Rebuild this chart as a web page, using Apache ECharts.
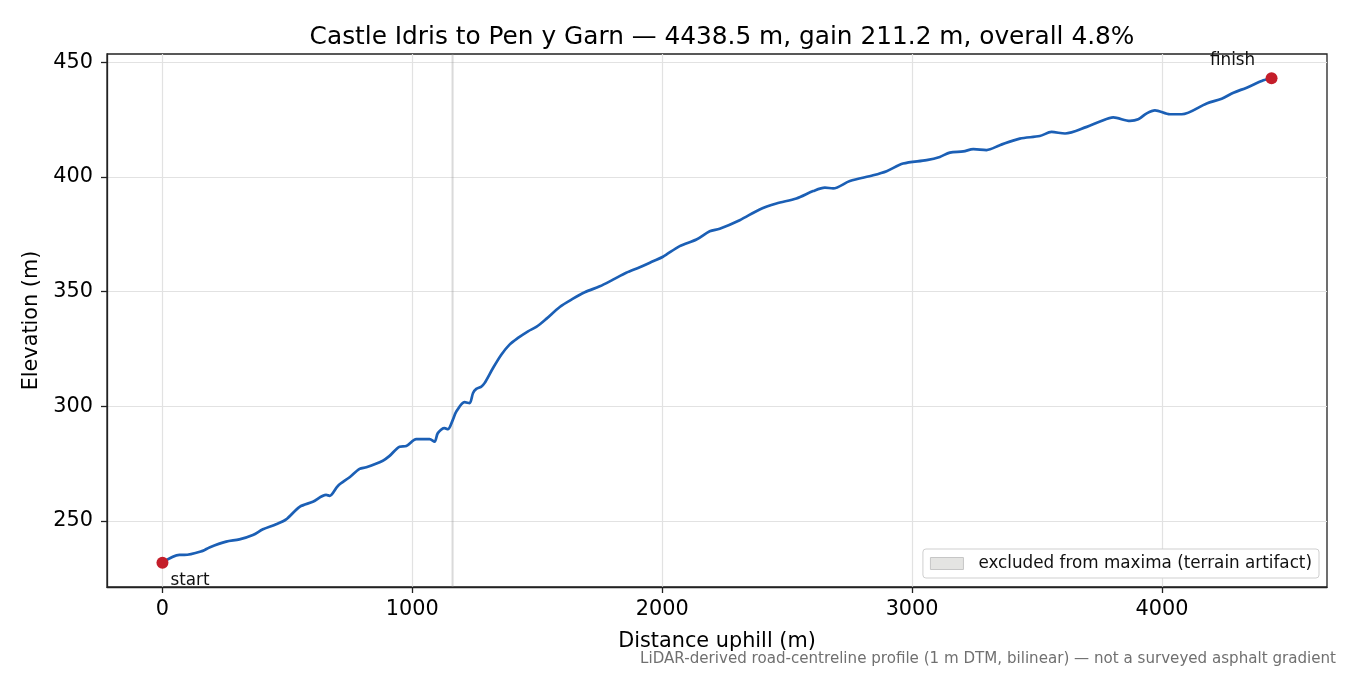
<!DOCTYPE html>
<html>
<head>
<meta charset="utf-8">
<script src="https://cdn.jsdelivr.net/npm/echarts@6/dist/echarts.min.js"></script>
<style>
  html, body { margin: 0; padding: 0; background: #fff; }
  #chart { width: 1350px; height: 675px; }
</style>
</head>
<body>
<div id="chart"></div>
<script>
// distance along road (m) and elevation (m)
const distance = [
  0, 68, 88, 161, 188, 255, 308, 362, 402, 455, 495, 549, 602, 655, 669, 702,
  749, 789, 816, 882, 909, 949, 976, 1016, 1069, 1089, 1102, 1129, 1142, 1162,
  1176, 1209, 1229, 1243, 1256, 1275, 1289, 1323, 1356, 1389, 1423, 1463, 1496,
  1536, 1590, 1643, 1690, 1750, 1803, 1856, 1910, 1963, 2003, 2070, 2137, 2190,
  2230, 2310, 2390, 2457, 2537, 2604, 2651, 2684, 2751, 2844, 2898, 2964, 3058,
  3111, 3151, 3205, 3245, 3298, 3351, 3431, 3511, 3558, 3612, 3699, 3752, 3805,
  3872, 3905, 3939, 3972, 4032, 4079, 4179, 4239, 4286, 4339, 4406, 4438.5
];
const elevation = [
  231.8, 235.2, 235.2, 237.0, 238.5, 241.0, 242.0, 243.9, 246.4, 248.6, 250.7,
  256.2, 258.4, 261.4, 261.0, 265.3, 269.1, 272.7, 273.4, 276.3, 278.4, 282.4,
  282.7, 285.7, 285.7, 284.6, 288.3, 290.5, 290.0, 294.1, 297.7, 301.8, 301.4,
  305.8, 307.6, 308.5, 310.1, 316.7, 322.5, 326.9, 329.8, 332.7, 334.6, 338.1,
  343.3, 346.9, 349.7, 352.3, 355.2, 358.2, 360.6, 363.2, 365.2, 369.8, 372.7,
  376.3, 377.4, 381.1, 385.8, 388.4, 390.6, 393.8, 395.3, 395.0, 398.2, 400.7,
  402.5, 405.8, 407.3, 408.7, 410.6, 411.1, 412.1, 411.7, 413.8, 416.7, 417.8,
  419.6, 418.9, 421.8, 424.1, 425.9, 424.4, 425.1, 427.7, 429.0, 427.3, 427.3,
  432.0, 434.1, 436.7, 438.9, 442.1, 443.0
];
const excludedBand = [1157, 1165];
const xTicks = [0, 1000, 2000, 3000, 4000];
const yTicks = [250, 300, 350, 400, 450];
const endpointNames = ["start", "finish"];

const titleText = "Castle Idris to Pen y Garn \u2014 4438.5 m, gain 211.2 m, overall 4.8%";
const bandName = "excluded from maxima (terrain artifact)";
const footText = "LiDAR-derived road-centreline profile (1 m DTM, bilinear) \u2014 not a surveyed asphalt gradient";

const FONT = "DejaVu Sans";
const last = distance.length - 1;
const xSpan = distance[last] - distance[0];
const ySpan = elevation[last] - elevation[0];
const plain = (v) => String(v);

const chart = echarts.init(document.getElementById("chart"), null, { renderer: "canvas" });

chart.setOption({
  animation: false,
  backgroundColor: "#ffffff",
  textStyle: { fontFamily: FONT },
  title: {
    text: titleText,
    left: 717,
    textAlign: "center",
    top: 20,
    textStyle: { fontFamily: FONT, fontSize: 24.8, fontWeight: "normal", color: "#000" }
  },
  grid: {
    left: 107, right: 23, top: 54, bottom: 88,
    show: true, borderColor: "#222", borderWidth: 1.3, backgroundColor: "transparent"
  },
  legend: {
    right: 31, bottom: 97,
    data: [{
      name: bandName, icon: "rect",
      itemStyle: { color: "#e4e4e2", borderColor: "#c6c6c6", borderWidth: 1 }
    }],
    itemWidth: 33, itemHeight: 12,
    padding: [6, 7, 6, 7],
    backgroundColor: "#fff",
    borderColor: "#cfcfcf", borderWidth: 1, borderRadius: 3,
    textStyle: { fontFamily: FONT, fontSize: 16.8, color: "#111", padding: [0, 0, 0, 10] }
  },
  xAxis: {
    type: "value",
    min: distance[0] - 0.05 * xSpan,
    max: distance[last] + 0.05 * xSpan,
    splitNumber: 5,
    name: "Distance uphill (m)",
    nameLocation: "middle",
    nameGap: 44,
    nameTextStyle: { fontFamily: FONT, fontSize: 20.8, color: "#000" },
    axisLine: { show: true, onZero: false, lineStyle: { color: "#222", width: 1.3 } },
    axisTick: { show: true, length: 6, lineStyle: { color: "#222", width: 1.3 }, customValues: xTicks },
    axisLabel: { fontFamily: FONT, fontSize: 20.8, color: "#000", margin: 12, customValues: xTicks, formatter: plain },
    splitLine: { show: true, lineStyle: { color: "#e2e2e2", width: 1.2 } }
  },
  yAxis: {
    type: "value",
    min: elevation[0] - 0.05 * ySpan,
    max: elevation[last] + 0.05 * ySpan,
    splitNumber: 5,
    name: "Elevation (m)",
    nameLocation: "middle",
    nameGap: 59,
    nameTextStyle: { fontFamily: FONT, fontSize: 20.8, color: "#000" },
    axisLine: { show: true, onZero: false, lineStyle: { color: "#222", width: 1.3 } },
    axisTick: { show: true, length: 6, lineStyle: { color: "#222", width: 1.3 }, customValues: yTicks },
    axisLabel: { fontFamily: FONT, fontSize: 20.8, color: "#000", margin: 14, customValues: yTicks, formatter: plain },
    splitLine: { show: true, lineStyle: { color: "#e2e2e2", width: 1.2 } }
  },
  series: [
    {
      name: bandName,
      type: "line",
      data: [],
      itemStyle: { color: "#e4e4e2" },
      markArea: {
        silent: true,
        itemStyle: { color: "rgba(150,150,150,0.35)" },
        data: [[{ xAxis: excludedBand[0] }, { xAxis: excludedBand[1] }]]
      }
    },
    {
      name: "profile",
      type: "line",
      data: distance.map((d, i) => [d, elevation[i]]),
      showSymbol: false,
      smooth: 0.3,
      lineStyle: { color: "#1b5fb5", width: 2.7 },
      z: 3
    },
    {
      name: "endpoints",
      type: "scatter",
      symbolSize: 12,
      itemStyle: { color: "#c41e2a", opacity: 1 },
      z: 4,
      data: [
        {
          value: [distance[0], elevation[0]], name: endpointNames[0],
          label: { show: true, formatter: "{b}", position: [14, 24], align: "left", verticalAlign: "middle",
                   fontFamily: FONT, fontSize: 16.8, color: "#111" }
        },
        {
          value: [distance[last], elevation[last]], name: endpointNames[1],
          label: { show: true, formatter: "{b}", position: [-33, -12], align: "center", verticalAlign: "middle",
                   fontFamily: FONT, fontSize: 16.8, color: "#111" }
        }
      ]
    }
  ],
  graphic: [{
    type: "text",
    right: 14,
    top: 652,
    style: { text: footText, fontFamily: FONT, fontSize: 15.1, fill: "#707070" }
  }]
});
</script>
</body>
</html>
